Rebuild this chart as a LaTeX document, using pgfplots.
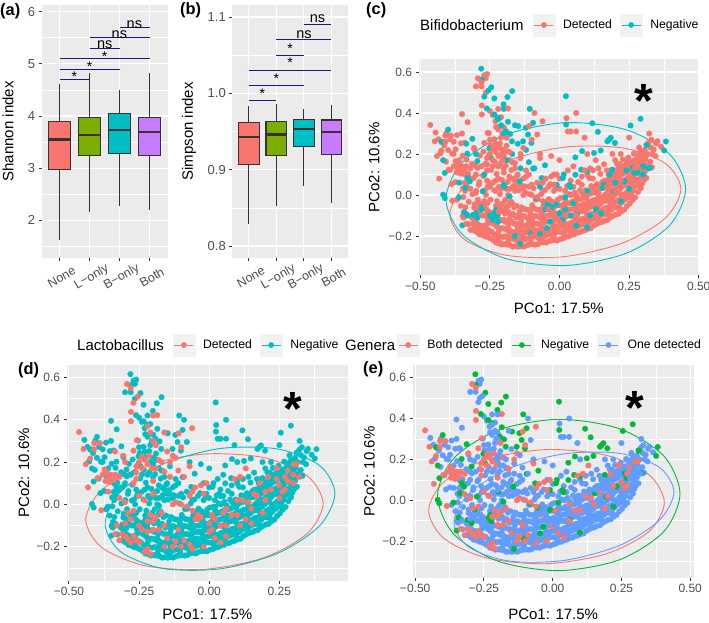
\documentclass[border=0pt]{standalone}
\usepackage{fontspec}
\setmainfont{Liberation Sans}
\usepackage{pgfplots}
\usepackage{pgfplotstable}
\pgfplotsset{compat=1.18}
\usepgfplotslibrary{statistics}

\definecolor{panel}{HTML}{EBEBEB}
\definecolor{keybg}{HTML}{F2F2F2}
\definecolor{tickgray}{HTML}{4D4D4D}
\definecolor{boxline}{HTML}{333333}
\definecolor{coral}{HTML}{F8766D}
\definecolor{teal}{HTML}{00BFC4}
\definecolor{olive}{HTML}{7CAE00}
\definecolor{purp}{HTML}{C77CFF}
\definecolor{ggreen}{HTML}{00BA38}
\definecolor{gblue}{HTML}{619CFF}
\definecolor{navyline}{HTML}{1A1A7A}

% the same samples in c, d, e, split by group
\pgfplotstableread[row sep=\\]{x y\\
-.281 .616\\-.279 .564\\-.245 .526\\-.234 .471\\-.17 .507\\-.187 .478\\-.201 .442\\-.261 .422\\-.234 .393\\-.222 .377\\
-.107 .42\\.023 .482\\.024 .344\\.118 .35\\.138 .308\\.255 .339\\.291 .372\\.382 .261\\.376 .217\\.313 .243\\
.178 .27\\.184 .279\\.199 .254\\.172 .262\\-.121 .328\\-.095 .352\\-.148 .336\\-.185 .357\\-.192 .311\\-.171 .262\\
-.177 .298\\-.131 .262\\-.113 .295\\-.101 .254\\-.4 .319\\-.313 .274\\-.424 .259\\-.418 .17\\-.412 .108\\-.331 .202\\
-.252 .227\\-.246 .181\\-.295 .165\\-.418 .002\\-.412 -.015\\-.361 -.011\\-.337 .034\\-.331 .083\\-.322 .067\\-.343 -.083\\
-.349 -.148\\-.31 -.096\\-.295 -.112\\-.285 -.047\\-.276 .018\\-.234 -.088\\-.224 -.104\\-.228 -.072\\-.141 -.238\\-.01 .05\\
.015 .1\\.012 .083\\.021 -.011\\-.01 -.047\\-.055 -.036\\-.082 -.015\\-.052 .145\\-.095 .129\\.081 .214\\.057 .184\\
.124 .205\\.148 .217\\.078 .124\\.057 .099\\.099 .116\\.036 .05\\.039 .039\\-.064 .083\\-.143 .067\\-.198 .042\\
-.179 -.007\\-.107 -.186\\-.046 -.161\\-.034 -.129\\.154 .034\\.19 .124\\.269 .108\\.263 .132\\.324 .132\\.233 .067\\
.221 -.031\\.099 -.158\\.063 -.096\\.196 .018\\
}\tabNone

\pgfplotstableread[row sep=\\]{x y\\
-.27 .48\\-.255 .51\\-.2 .42\\-.21 .34\\-.22 .37\\-.16 .34\\-.2 .3\\-.335 .25\\-.33 -.1\\-.3 -.09\\
-.28 -.07\\-.25 -.1\\-.24 -.12\\-.22 -.13\\-.2 .05\\-.17 .2\\-.15 .25\\-.14 .13\\-.11 .16\\-.09 .13\\
-.07 .04\\-.05 -.07\\-.04 -.05\\-.03 -.06\\0 -.09\\.01 -.12\\.02 -.07\\.04 -.1\\.05 -.04\\.1 .02\\
.11 -.1\\.13 -.07\\.16 .05\\.18 .1\\.2 .06\\.24 .12\\.28 .11\\.3 .14\\.3 .1\\.32 .13\\
.25 .03\\-.19 .17\\-.12 .22\\-.3 .2\\-.27 .1\\-.36 .06\\-.16 -.2\\-.07 -.19\\.06 -.15\\.15 -.09\\
}\tabL

\pgfplotstableread[row sep=\\]{x y\\
.345 .19\\.338 .222\\.347 .252\\.365 .235\\.352 .262\\.33 .27\\.322 .3\\.25 .28\\
.332 .135\\.326 .162\\.334 .2\\.327 .232\\.321 .258\\
.312 .083\\.306 .112\\.314 .143\\.308 .172\\.315 .2\\.306 .22\\.312 .245\\
.292 .033\\.286 .062\\.293 .094\\.287 .122\\.294 .153\\.287 .182\\.292 .212\\.286 .232\\
.272 -.012\\.266 .022\\.274 .053\\.267 .082\\.272 .114\\.265 .142\\.274 .173\\.267 .202\\
.252 -.042\\.246 -.012\\.254 .023\\.247 .053\\.252 .092\\.246 .123\\.254 .153\\.247 .183\\
.232 -.072\\.226 -.033\\.234 .004\\.227 .043\\.233 .072\\.226 .103\\.234 .143\\.227 .173\\
.212 -.092\\.206 -.062\\.214 -.023\\.207 .013\\.212 .053\\.206 .084\\.214 .113\\.207 .152\\
.192 -.102\\.186 -.072\\.194 -.043\\.187 -.012\\.192 .023\\.186 .052\\.194 .093\\.187 .122\\
.172 -.122\\.166 -.092\\.174 -.062\\.167 -.023\\.172 .012\\.166 .043\\.174 .073\\
.152 -.132\\.146 -.102\\.154 -.072\\.147 -.043\\.152 -.012\\.146 .033\\.154 .063\\.147 .103\\
.132 -.142\\.126 -.112\\.134 -.082\\.127 -.053\\.132 -.023\\.126 .022\\.134 .053\\
.112 -.162\\.106 -.132\\.114 -.092\\.107 -.062\\.112 -.033\\.106 .004\\.114 .043\\.107 .083\\
.092 -.172\\.086 -.142\\.094 -.112\\.087 -.072\\.092 -.043\\.086 -.012\\.094 .023\\
.072 -.182\\.066 -.152\\.074 -.122\\.067 -.082\\.072 -.053\\.066 -.023\\.074 .023\\.067 .063\\
.052 -.192\\.046 -.162\\.054 -.132\\.047 -.102\\.052 -.062\\.046 -.033\\.054 .012\\
.032 -.202\\.026 -.172\\.034 -.142\\.027 -.102\\.032 -.072\\.026 -.043\\.034 .004\\.027 .043\\
.012 -.212\\.006 -.182\\.014 -.152\\.007 -.112\\.012 -.082\\.006 -.053\\.014 -.012\\
-.008 -.222\\-.014 -.182\\-.006 -.152\\-.013 -.122\\-.008 -.092\\-.014 -.053\\-.006 -.023\\-.013 .033\\
-.028 -.222\\-.034 -.192\\-.026 -.162\\-.033 -.132\\-.028 -.092\\-.034 -.062\\-.026 -.033\\-.033 .053\\
-.048 -.232\\-.054 -.202\\-.046 -.172\\-.053 -.132\\-.048 -.102\\-.054 -.072\\-.046 -.033\\-.053 .023\\
-.068 -.232\\-.074 -.212\\-.066 -.172\\-.073 -.142\\-.068 -.112\\-.074 -.072\\-.066 .004\\
-.088 -.242\\-.094 -.202\\-.086 -.182\\-.093 -.142\\-.088 -.102\\-.094 -.062\\-.086 -.023\\-.093 .033\\
-.108 -.242\\-.114 -.212\\-.106 -.172\\-.113 -.142\\-.108 -.112\\-.114 -.072\\-.106 .004\\
-.128 -.252\\-.134 -.222\\-.126 -.182\\-.133 -.152\\-.128 -.102\\-.134 -.062\\-.126 .043\\
-.148 -.252\\-.154 -.222\\-.146 -.182\\-.153 -.142\\-.148 -.102\\-.154 -.053\\-.146 .023\\-.153 .093\\
-.168 -.252\\-.174 -.212\\-.166 -.182\\-.173 -.132\\-.168 -.092\\-.174 -.033\\-.166 .043\\-.173 .122\\
-.188 -.242\\-.194 -.202\\-.186 -.172\\-.193 -.132\\-.188 -.082\\-.194 -.023\\-.186 .063\\-.193 .143\\-.188 .212\\
-.208 -.242\\-.214 -.202\\-.206 -.162\\-.213 -.122\\-.208 -.072\\-.214 .004\\-.206 .073\\-.213 .152\\-.208 .202\\-.214 .252\\
-.228 -.232\\-.234 -.192\\-.226 -.152\\-.233 -.102\\-.228 -.053\\-.234 .023\\-.226 .103\\-.233 .163\\-.228 .223\\-.234 .272\\-.228 .332\\
-.248 -.212\\-.254 -.172\\-.246 -.132\\-.253 -.082\\-.248 -.023\\-.254 .053\\-.246 .122\\-.253 .192\\-.248 .243\\-.254 .302\\
-.268 -.202\\-.274 -.162\\-.266 -.102\\-.273 -.053\\-.268 .023\\-.274 .093\\-.266 .152\\-.273 .212\\
-.288 -.192\\-.294 -.142\\-.286 -.092\\-.293 -.023\\-.288 .063\\-.294 .132\\-.286 .192\\
-.308 -.172\\-.314 -.112\\-.306 -.062\\-.313 .004\\-.308 .083\\-.314 .152\\-.306 .223\\
-.328 -.142\\-.334 -.092\\-.326 -.033\\-.333 .043\\-.328 .103\\-.334 .173\\
-.348 -.102\\-.354 -.053\\-.346 .033\\-.353 .112\\-.348 .192\\-.354 .252\\
-.368 -.023\\-.374 .063\\-.366 .132\\-.373 .223\\-.368 .292\\
-.388 .053\\-.394 .122\\-.386 .202\\-.393 .272\\
-.408 .163\\-.414 .243\\-.406 .302\\-.428 .203\\-.434 .272\\-.445 .305\\
-.27 .585\\-.265 .57\\-.26 .59\\-.28 .53\\-.3 .53\\-.265 .5\\-.25 .41\\-.24 .39\\-.22 .42\\-.21 .38\\
-.23 .36\\-.22 .32\\-.205 .3\\-.2 .33\\.025 .375\\.03 .31\\.04 .31\\.06 .31\\.06 .4\\.09 .28\\
-.09 .4\\-.08 .295\\-.35 .395\\-.33 .355\\-.38 .26\\-.35 .3\\-.34 .255\\-.11 .04\\-.07 .2\\-.03 .19\\
0 .17\\.03 .12\\.05 .14\\.12 .12\\.16 .15\\.1 .2\\.19 .2\\.22 .2\\-.14 .18\\-.12 .09\\
.302 .07\\.297 .1\\.303 .13\\.298 .165\\.303 .195\\
.282 .015\\.277 .045\\.283 .075\\.278 .105\\.283 .135\\.277 .165\\.282 .195\\
.262 -.025\\.257 .005\\.263 .04\\.258 .07\\.263 .105\\.257 .135\\.262 .165\\
.242 -.055\\.237 -.02\\.243 .015\\.238 .05\\.243 .08\\.237 .11\\.242 .15\\
.222 -.08\\.217 -.045\\.223 -.01\\.218 .03\\.223 .06\\.217 .095\\.222 .13\\
.202 -.095\\.197 -.06\\.203 -.03\\.198 .0\\.203 .035\\.197 .07\\.202 .105\\
.182 -.11\\.177 -.08\\.183 -.05\\.178 -.015\\.183 .02\\.177 .05\\.182 .08\\
.162 -.125\\.157 -.095\\.163 -.065\\.158 -.03\\.163 .0\\.157 .035\\.162 .07\\
.142 -.135\\.137 -.105\\.143 -.075\\.138 -.045\\.143 -.015\\.137 .025\\
.122 -.15\\.117 -.12\\.123 -.09\\.118 -.055\\.123 -.025\\.117 .01\\.122 .04\\
.102 -.165\\.097 -.135\\.103 -.1\\.098 -.065\\.103 -.035\\.097 .0\\
.082 -.175\\.077 -.145\\.083 -.115\\.078 -.08\\.083 -.05\\.077 -.02\\.082 .01\\
.062 -.185\\.057 -.155\\.063 -.125\\.058 -.09\\.063 -.055\\.057 -.025\\
.042 -.195\\.037 -.165\\.043 -.135\\.038 -.1\\.043 -.07\\.037 -.04\\.042 .0\\
.022 -.205\\.017 -.175\\.023 -.145\\.018 -.11\\.023 -.075\\.017 -.045\\
.002 -.215\\-.003 -.18\\.003 -.15\\-.002 -.115\\.003 -.085\\-.003 -.05\\.002 -.015\\
-.018 -.22\\-.023 -.185\\-.017 -.155\\-.022 -.125\\-.017 -.09\\-.023 -.055\\
-.038 -.225\\-.043 -.195\\-.037 -.165\\-.042 -.13\\-.037 -.1\\-.043 -.065\\-.038 -.02\\
-.058 -.23\\-.063 -.205\\-.057 -.17\\-.062 -.14\\-.057 -.105\\-.063 -.07\\
-.078 -.24\\-.083 -.205\\-.077 -.175\\-.082 -.14\\-.077 -.105\\-.083 -.07\\-.078 -.02\\
-.098 -.24\\-.103 -.21\\-.097 -.175\\-.102 -.14\\-.097 -.11\\-.103 -.07\\
-.118 -.245\\-.123 -.215\\-.117 -.18\\-.122 -.15\\-.117 -.11\\-.123 -.07\\
-.138 -.25\\-.143 -.22\\-.137 -.18\\-.142 -.15\\-.137 -.12\\-.143 -.08\\
-.158 -.25\\-.163 -.215\\-.157 -.18\\-.162 -.14\\-.157 -.11\\-.163 -.06\\
-.178 -.245\\-.183 -.21\\-.177 -.175\\-.182 -.14\\-.177 -.1\\-.183 -.05\\
-.198 -.24\\-.203 -.205\\-.197 -.165\\-.202 -.125\\-.197 -.09\\-.203 -.04\\
-.218 -.235\\-.223 -.195\\-.217 -.16\\-.222 -.11\\-.217 -.07\\
-.238 -.22\\-.243 -.18\\-.237 -.14\\-.242 -.09\\
-.258 -.205\\-.263 -.165\\-.257 -.12\\-.262 -.07\\
-.278 -.195\\-.283 -.15\\-.277 -.1\\-.298 -.18\\-.303 -.125\\-.297 -.07\\
-.24 .06\\-.22 .08\\-.2 .13\\-.18 .09\\-.26 .07\\-.24 .14\\-.22 .14\\-.2 .19\\-.19 .24\\-.23 .25\\
-.25 .27\\-.21 .28\\-.2 .22\\-.18 .17\\-.16 .13\\-.17 .08\\-.15 .05\\-.13 .08\\-.11 .1\\-.3 .1\\
-.28 .14\\-.29 .05\\-.32 .08\\-.3 .14\\-.34 .06\\-.34 .1\\-.36 .17\\-.38 .2\\-.4 .22\\-.42 .26\\
-.02 .1\\0 .08\\.04 .07\\.08 .09\\.1 .1\\.14 .13\\.17 .12\\.2 .17\\
.296 .055\\.302 .085\\.295 .115\\.301 .15\\.296 .18\\
.256 -.01\\.262 .02\\.255 .055\\.261 .09\\.256 .12\\.262 .15\\
.216 -.065\\.222 -.03\\.215 .01\\.221 .045\\.216 .08\\.222 .115\\.216 .15\\
.176 -.095\\.182 -.065\\.175 -.03\\.181 .005\\.176 .035\\.182 .065\\.176 .1\\
.136 -.12\\.142 -.09\\.135 -.06\\.141 -.03\\.136 .005\\.142 .045\\
.096 -.15\\.102 -.12\\.095 -.085\\.101 -.05\\.096 -.015\\.102 .02\\
.056 -.17\\.062 -.14\\.055 -.11\\.061 -.075\\.056 -.04\\.062 -.005\\
.016 -.19\\.022 -.16\\.015 -.13\\.021 -.095\\.016 -.06\\.022 -.03\\
-.024 -.205\\-.018 -.17\\-.025 -.14\\-.019 -.11\\-.024 -.075\\-.018 -.04\\
-.064 -.215\\-.058 -.185\\-.065 -.155\\-.059 -.125\\-.064 -.09\\-.058 -.055\\
-.104 -.225\\-.098 -.195\\-.105 -.16\\-.099 -.125\\-.104 -.09\\-.098 -.05\\
-.144 -.235\\-.138 -.2\\-.145 -.165\\-.139 -.135\\-.144 -.1\\-.138 -.06\\
-.184 -.23\\-.178 -.195\\-.185 -.16\\-.179 -.12\\-.184 -.08\\-.178 -.04\\-.185 .0\\-.179 .03\\
-.224 -.215\\-.218 -.175\\-.225 -.135\\-.219 -.09\\-.224 -.03\\-.218 .04\\
-.264 -.185\\-.258 -.14\\-.265 -.095\\-.259 -.04\\-.264 .0\\-.258 .04\\
-.304 -.16\\-.298 -.11\\-.305 -.045\\-.299 .02\\-.344 -.11\\-.338 -.06\\-.345 -.01\\-.339 .02\\
-.1 .05\\-.08 .06\\-.06 .02\\-.04 .04\\-.02 .02\\0 .03\\.02 .02\\.05 .04\\.08 .05\\.12 .08\\
-.16 .02\\-.16 .07\\-.14 .05\\-.13 .03\\-.12 .12\\-.15 .1\\-.17 .16\\-.21 .03\\-.23 .07\\-.19 .03\\
}\tabB

\pgfplotstableread[row sep=\\]{x y\\
-.293 .569\\-.28 .55\\-.279 .437\\-.279 .393\\-.185 .422\\-.061 .36\\-.109 .336\\-.464 .342\\-.448 .262\\-.424 .217\\
-.44 .19\\-.432 .08\\-.398 .124\\-.385 -.028\\-.373 .165\\-.38 .14\\-.365 .15\\-.36 .125\\-.35 .14\\-.34 .115\\
-.335 .14\\-.37 .11\\-.355 .105\\-.32 .13\\-.258 .303\\-.307 .23\\-.27 .254\\-.41 .26\\-.41 .29\\-.39 .29\\
-.26 .18\\-.25 .2\\-.24 .17\\-.23 .21\\-.22 .19\\-.215 .23\\-.205 .17\\-.24 .225\\-.26 .15\\-.19 .28\\
-.13 .23\\-.14 .2\\-.1 .27\\-.07 .18\\-.16 .155\\-.32 -.17\\-.3 -.15\\-.29 -.165\\-.27 -.15\\-.26 -.17\\
-.25 -.18\\-.31 -.14\\-.28 -.18\\-.335 -.14\\-.23 -.225\\-.21 -.235\\-.22 -.21\\-.21 -.05\\-.19 -.06\\-.2 -.08\\
-.17 -.04\\-.22 -.08\\-.2 -.12\\-.18 -.12\\-.16 -.1\\-.15 -.16\\-.13 -.2\\-.12 -.175\\-.1 -.2\\-.09 -.17\\
-.11 -.12\\-.13 0\\-.12 .01\\-.1 .0\\-.08 -.01\\-.06 -.03\\-.04 -.07\\-.03 .09\\-.01 .1\\-.05 .08\\
-.06 .06\\-.02 .05\\0 -.13\\.02 -.16\\.04 -.18\\.06 -.1\\.08 -.05\\.1 -.05\\.12 .02\\.14 .01\\
.09 .12\\.11 .13\\.13 .17\\.06 -.02\\.19 -.04\\.22 .07\\.25 .09\\.26 .06\\.27 .13\\.27 .07\\
.28 .16\\.3 .19\\.31 .19\\.24 .17\\.21 .13\\.2 .02\\.17 .04\\.15 -.02\\-.32 .03\\-.3 .01\\
-.29 -.04\\-.27 -.03\\-.25 .04\\-.26 .12\\-.2 .11\\-.18 .21\\-.23 .02\\-.02 -.2\\-.06 -.21\\.01 -.05\\
}\tabBoth

\pgfplotsset{
  ggbase/.style={
    scale only axis, anchor=south west,
    axis background/.style={fill=panel},
    axis line style={draw=none},
    tick align=outside, xtick pos=bottom, ytick pos=left,
    major tick length=3pt, minor tick length=0pt,
    tick style={color=boxline, line width=.9pt},
    xmajorgrids, ymajorgrids,
    major grid style={white, line width=1.1pt},
    minor grid style={white, line width=.55pt},
  },
  boxpanel/.style={
    ggbase, xmin=.4, xmax=4.6, xtick={1,2,3,4},
    xticklabels={None,L−only,B−only,Both},
    yminorgrids,
    tick label style={font=\fontsize{13}{13}\selectfont, text=tickgray},
    xticklabel style={xshift=2pt, yshift=-16.5pt, rotate=30, anchor=center, font=\fontsize{12.5}{12.5}\selectfont},
  },
  pcoa/.style={
    ggbase, xminorgrids, yminorgrids,
    ytick={-.2,0,.2,.4,.6},
    yticklabels={−0.2,0.0,0.2,0.4,0.6},
    minor ytick={-.3,-.1,.1,.3,.5},
    minor xtick={-.375,-.125,.125,.375},
    tick label style={font=\fontsize{12}{12}\selectfont, text=tickgray},
    xlabel={PCo1: 17.5\%}, ylabel={PCo2: 10.6\%},
    legend style={draw=none, fill=none, anchor=west, inner sep=0pt, outer sep=0pt,
      font=\fontsize{12.2}{12.2}\selectfont, legend columns=-1,
      /tikz/every odd column/.append style={column sep=6pt},
      /tikz/every even column/.append style={column sep=6pt}},
  },
  lblx/.style={every axis x label/.style={at={(axis description cs:.5,#1)}, anchor=center, font=\fontsize{15}{15}\selectfont}},
  lbly/.style={every axis y label/.style={at={(axis description cs:#1,.5)}, rotate=90, anchor=center, font=\fontsize{15}{15}\selectfont}},
  pts/.style={only marks, mark=*, mark size=2.8pt, mark options={draw=#1, fill=#1, line width=.3pt}, forget plot},
  oval/.style={no markers, smooth cycle, #1, line width=.9pt, forget plot},
  sig/.style={no markers, sharp plot, navyline, line width=1pt, forget plot},
  box/.style n args={6}{
    boxplot/draw direction=y,
    boxplot prepared={draw position=#1, lower whisker=#2, lower quartile=#3,
      median=#4, upper quartile=#5, upper whisker=#6,
      box extend=.75, whisker extend=0, every median/.style={line width=2.3pt}},
    draw=boxline, line width=1.1pt, forget plot},
  keyimg/.style={legend image code/.code={
    \fill[keybg] (0,-11pt) rectangle (22pt,11pt);
    \draw[#1, line width=.9pt] (1.5pt,0) -- (20.5pt,0);
    \fill[#1] (11pt,0) circle (2.6pt);}},
}
\newcommand{\sigtext}[2]{\node[anchor=base, inner sep=0pt, font=\fontsize{14}{14}\selectfont] at (axis cs:#1) {#2};}
\newcommand{\nstext}[1]{\node[anchor=base, inner sep=0pt, font=\fontsize{14.5}{14.5}\selectfont] at (axis cs:#1) {ns};}

\begin{document}
\begin{tikzpicture}[x=1pt, y=1pt]
\useasboundingbox (0,0) rectangle (709,622);

% (a)
\begin{axis}[boxpanel, at={(41.7pt,364.3pt)}, width=126pt, height=252.7pt,
  ymin=1.284, ymax=6.128, ytick={2,3,4,5,6}, yticklabels={2,3,4,5,6},
  minor ytick={1.5,2.5,3.5,4.5,5.5},
  ylabel={Shannon index}, lbly=-.267]
\addplot[box={1}{1.62}{2.98}{3.55}{3.89}{4.62}, fill=coral] coordinates {};
\addplot[box={2}{2.16}{3.25}{3.64}{3.98}{4.83}, fill=olive] coordinates {};
\addplot[box={3}{2.28}{3.29}{3.73}{4.04}{4.50}, fill=teal] coordinates {};
\addplot[box={4}{2.19}{3.25}{3.69}{3.98}{4.83}, fill=purp] coordinates {};
\addplot[sig] coordinates {(1,4.7)(2,4.7)};
\addplot[sig] coordinates {(1,4.9)(3,4.9)};
\addplot[sig] coordinates {(1,5.1)(4,5.1)};
\addplot[sig] coordinates {(2,5.3)(3,5.3)};
\addplot[sig] coordinates {(2,5.5)(4,5.5)};
\addplot[sig] coordinates {(3,5.7)(4,5.7)};
\sigtext{1.49,4.654}{*}
\sigtext{2,4.847}{*}
\sigtext{2.5,5.047}{*}
\nstext{2.5,5.286}
\nstext{2.99,5.49}
\nstext{3.49,5.68}
\end{axis}

% (b)
\begin{axis}[boxpanel, at={(232.3pt,364.3pt)}, width=115.7pt, height=252.7pt,
  ymin=.7847, ymax=1.1157, ytick={.8,.9,1,1.1}, yticklabels={0.8,0.9,1.0,1.1},
  minor ytick={.85,.95,1.05},
  ylabel={Simpson index}, lbly=-.374]
\addplot[box={1}{.829}{.907}{.943}{.962}{.983}, fill=coral] coordinates {};
\addplot[box={2}{.852}{.918}{.946}{.963}{.986}, fill=olive] coordinates {};
\addplot[box={3}{.879}{.930}{.953}{.966}{.980}, fill=teal] coordinates {};
\addplot[box={4}{.857}{.920}{.949}{.965}{.985}, fill=purp] coordinates {};
\addplot[sig] coordinates {(1,.99)(2,.99)};
\addplot[sig] coordinates {(1,1.01)(3,1.01)};
\addplot[sig] coordinates {(1,1.03)(4,1.03)};
\addplot[sig] coordinates {(2,1.05)(3,1.05)};
\addplot[sig] coordinates {(2,1.07)(4,1.07)};
\addplot[sig] coordinates {(3,1.09)(4,1.09)};
\sigtext{1.49,.9935}{*}
\sigtext{2,1.0131}{*}
\sigtext{2.5,1.0332}{*}
\sigtext{2.5,1.0528}{*}
\nstext{3,1.072}
\nstext{3.49,1.0926}
\end{axis}

% (c)
\begin{axis}[pcoa, at={(418.7pt,346.7pt)}, width=280.3pt, height=216pt,
  xmin=-.5057, xmax=.501, ymin=-.3917, ymax=.662,
  xtick={-.5,-.25,0,.25,.5}, xticklabels={−0.50,−0.25,0.00,0.25,0.50},
  lblx=-.151, lbly=-.159,
  legend style={at={(axis description cs:.4067,1.159)}}]
\addplot[pts=coral] table {\tabB};
\addplot[pts=teal] table {\tabL};
\addplot[pts=teal] table {\tabNone};
\addplot[pts=coral] table {\tabBoth};
\addplot[oval=coral] coordinates {(.436,.029)(.380,.154)(.229,.229)(.021,.234)(-.187,.167)(-.338,.047)(-.394,-.095)(-.338,-.220)(-.187,-.295)(.021,-.300)(.229,-.233)(.380,-.113)};
\addplot[oval=teal] coordinates {(.453,.029)(.395,.200)(.238,.319)(.0225,.353)(-.193,.294)(-.350,.158)(-.408,-.020)(-.350,-.191)(-.193,-.310)(.0225,-.344)(.238,-.285)(.395,-.149)};
\addlegendimage{keyimg=coral}\addlegendentry{Detected}
\addlegendimage{keyimg=teal}\addlegendentry{Negative}
\end{axis}

% (d)
\begin{axis}[pcoa, at={(66.7pt,41.3pt)}, width=281.3pt, height=215.7pt,
  xmin=-.508, xmax=.4945, ymin=-.361, ymax=.659,
  xtick={-.5,-.25,0,.25}, xticklabels={−0.50,−0.25,0.00,0.25},
  lblx=-.154, lbly=-.152,
  legend style={at={(axis description cs:.3768,1.0927)}}]
\addplot[pts=teal] table {\tabB};
\addplot[pts=teal] table {\tabNone};
\addplot[pts=coral] table {\tabBoth};
\addplot[pts=coral] table {\tabL};
\addplot[oval=coral] coordinates {(.406,.004)(.349,.135)(.195,.221)(-.017,.238)(-.229,.183)(-.383,.069)(-.44,-.073)(-.383,-.204)(-.229,-.290)(-.017,-.307)(.195,-.252)(.349,-.138)};
\addplot[oval=teal] coordinates {(.448,.051)(.393,.184)(.243,.262)(.0385,.264)(-.166,.190)(-.316,.060)(-.371,-.092)(-.316,-.224)(-.166,-.303)(.0385,-.305)(.243,-.232)(.393,-.102)};
\addlegendimage{keyimg=coral}\addlegendentry{Detected}
\addlegendimage{keyimg=teal}\addlegendentry{Negative}
\end{axis}

% (e)
\begin{axis}[pcoa, at={(412.7pt,44pt)}, width=281pt, height=213pt,
  xmin=-.509, xmax=.5127, ymin=-.38, ymax=.6616,
  xtick={-.5,-.25,0,.25,.5}, xticklabels={−0.50,−0.25,0.00,0.25,0.50},
  lblx=-.169, lbly=-.154,
  legend style={at={(axis description cs:-.0559,1.094)}}]
\addplot[pts=gblue] table {\tabB};
\addplot[pts=ggreen] table {\tabNone};
\addplot[pts=coral] table {\tabBoth};
\addplot[pts=gblue] table {\tabL};
\addplot[oval=coral] coordinates {(.406,-.011)(.349,.126)(.192,.221)(-.0225,.248)(-.237,.201)(-.394,.092)(-.451,-.051)(-.394,-.188)(-.237,-.283)(-.0225,-.310)(.192,-.263)(.349,-.154)};
\addplot[oval=ggreen] coordinates {(.463,.032)(.404,.217)(.2425,.350)(.022,.396)(-.1985,.343)(-.360,.205)(-.419,.020)(-.360,-.165)(-.1985,-.298)(.022,-.344)(.2425,-.291)(.404,-.153)};
\addplot[oval=gblue] coordinates {(.441,.041)(.387,.162)(.241,.230)(.041,.227)(-.159,.155)(-.305,.032)(-.359,-.108)(-.305,-.229)(-.159,-.297)(.041,-.294)(.241,-.222)(.387,-.099)};
\addlegendimage{keyimg=coral}\addlegendentry{Both detected}
\addlegendimage{keyimg=ggreen}\addlegendentry{Negative}
\addlegendimage{keyimg=gblue}\addlegendentry{One detected}
\end{axis}

% legend titles
\node[anchor=west, inner sep=0pt, font=\fontsize{15}{15}\selectfont] at (420,597) {Bifidobacterium};
\node[anchor=west, inner sep=0pt, font=\fontsize{15}{15}\selectfont] at (77,277) {Lactobacillus};
\node[anchor=west, inner sep=0pt, font=\fontsize{15}{15}\selectfont] at (345,277) {Genera};

% panel tags
\node[anchor=west, inner sep=0pt, font=\bfseries\fontsize{16.4}{16.4}\selectfont] at (0,611) {(a)};
\node[anchor=west, inner sep=0pt, font=\bfseries\fontsize{16.4}{16.4}\selectfont] at (180,612) {(b)};
\node[anchor=west, inner sep=0pt, font=\bfseries\fontsize{16.4}{16.4}\selectfont] at (366,612) {(c)};
\node[anchor=west, inner sep=0pt, font=\bfseries\fontsize{16.4}{16.4}\selectfont] at (18,252) {(d)};
\node[anchor=west, inner sep=0pt, font=\bfseries\fontsize{16.4}{16.4}\selectfont] at (363,253) {(e)};

% big asterisks
\node[anchor=base, inner sep=0pt, font=\bfseries\fontsize{48}{48}\selectfont] at (644,504) {*};
\node[anchor=base, inner sep=0pt, font=\bfseries\fontsize{48}{48}\selectfont] at (293.3,197) {*};
\node[anchor=base, inner sep=0pt, font=\bfseries\fontsize{48}{48}\selectfont] at (635,198) {*};
\end{tikzpicture}
\end{document}
